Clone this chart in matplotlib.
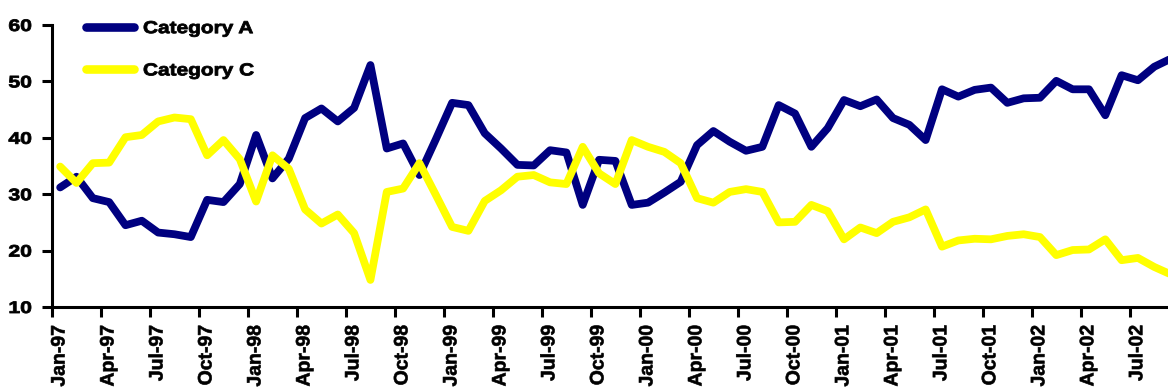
import matplotlib
matplotlib.use("Agg")
import matplotlib.pyplot as plt
import numpy as np
from matplotlib.patheffects import AbstractPathEffect
from matplotlib.transforms import Affine2D, ScaledTranslation

plt.rcParams['font.family'] = ['Liberation Sans', 'DejaVu Sans']
plt.rcParams['font.weight'] = 'bold'

# Monthly observations, Jan-97 .. Sep-02
category_a = [
    31.2, 33.1, 29.3, 28.6, 24.5, 25.3, 23.2, 22.9, 22.4, 29.0, 28.6, 31.8,
    40.5, 32.8, 36.3, 43.5, 45.2, 42.9, 45.3, 52.9, 38.1, 39.0, 33.4, 39.7,
    46.2, 45.8, 40.8, 38.1, 35.2, 35.1, 37.8, 37.4, 28.1, 36.1, 35.9, 28.1,
    28.5, 30.3, 32.2, 38.7, 41.2, 39.3, 37.7, 38.4, 45.8, 44.3, 38.4, 41.7,
    46.7, 45.6, 46.8, 43.5, 42.3, 39.6, 48.6, 47.3, 48.5, 48.9, 46.2, 47.0,
    47.1, 50.1, 48.6, 48.6, 44.0, 51.1, 50.2, 52.6, 54.0,
]
category_c = [
    34.9, 32.0, 35.5, 35.6, 40.1, 40.5, 42.9, 43.6, 43.3, 36.9, 39.6, 36.2,
    28.7, 36.9, 34.5, 27.3, 24.8, 26.4, 23.1, 14.8, 30.4, 31.0, 35.5, 29.9,
    24.2, 23.5, 28.8, 30.7, 33.1, 33.4, 32.1, 31.8, 38.4, 33.7, 31.8, 39.6,
    38.4, 37.5, 35.5, 29.3, 28.5, 30.4, 30.9, 30.4, 25.0, 25.1, 28.1, 27.0,
    22.0, 24.1, 23.1, 25.1, 25.9, 27.3, 20.7, 21.8, 22.1, 22.0, 22.6, 22.9,
    22.4, 19.2, 20.1, 20.2, 22.0, 18.3, 18.7, 17.1, 15.8,
]
tick_labels = [
    "Jan-97", "Apr-97", "Jul-97", "Oct-97",
    "Jan-98", "Apr-98", "Jul-98", "Oct-98",
    "Jan-99", "Apr-99", "Jul-99", "Oct-99",
    "Jan-00", "Apr-00", "Jul-00", "Oct-00",
    "Jan-01", "Apr-01", "Jul-01", "Oct-01",
    "Jan-02", "Apr-02", "Jul-02",
]
series_names = ["Category A", "Category C"]


class HeavyText(AbstractPathEffect):
    """Widen text glyphs horizontally about one edge and thicken the strokes."""

    def __init__(self, sx=1.0, anchor='left', stroke=0.5):
        super().__init__()
        self.sx = sx
        self.anchor = anchor
        self.stroke = stroke

    def draw_path(self, renderer, gc, tpath, affine, rgbFace=None):
        ext = tpath.get_extents(affine)
        x0 = {'left': ext.x0, 'right': ext.x1,
              'center': 0.5 * (ext.x0 + ext.x1)}[self.anchor]
        stretched = affine + Affine2D().translate(-x0, 0).scale(self.sx, 1).translate(x0, 0)
        gc0 = renderer.new_gc()
        gc0.copy_properties(gc)
        gc0.set_linewidth(self.stroke)
        gc0.set_foreground(rgbFace if rgbFace is not None else 'black')
        gc0.set_joinstyle('round')
        renderer.draw_path(gc0, tpath, stretched, rgbFace)
        gc0.restore()


W, H = 1168, 390
fig = plt.figure(figsize=(W / 100, H / 100), dpi=100)
ax = fig.add_axes([52 / W, 1 - 307 / H, 1 - 52 / W, (307 - 25) / H])

# each month sits in the middle of its category slot
x = np.arange(len(category_a)) + 0.5

line_kw = dict(linewidth=5.6, solid_joinstyle='round', solid_capstyle='round')
ax.plot(x, category_a, color='#000080', label=series_names[0], **line_kw)
ax.plot(x, category_c, color='#FFFF00', label=series_names[1], **line_kw)

ax.set_ylim(10, 60)
ax.set_yticks([10, 20, 30, 40, 50, 60])
ax.set_xlim(0, (W - 52) / 16.33)
ax.set_xticks(np.arange(len(tick_labels)) * 3)
ax.set_xticklabels(tick_labels, rotation=90, va='top', ha='center')

for side in ('top', 'right'):
    ax.spines[side].set_visible(False)
for side in ('left', 'bottom'):
    ax.spines[side].set_linewidth(2.2)
    ax.spines[side].set_color('black')

ax.tick_params(axis='both', direction='out', length=7, width=2.2, colors='black')
ax.tick_params(axis='y', pad=7.7, labelsize=12)
ax.tick_params(axis='x', pad=5.8, labelsize=14)

nudge = ScaledTranslation(8 / 100, 0, fig.dpi_scale_trans)
for lbl in ax.get_xticklabels():
    lbl.set_fontweight('bold')
    lbl.set_transform(lbl.get_transform() + nudge)
    lbl.set_path_effects([HeavyText(1.0, 'center', 0.45)])
for lbl in ax.get_yticklabels():
    lbl.set_fontweight('bold')
    lbl.set_path_effects([HeavyText(1.27, 'right', 0.6)])

leg = ax.legend(loc='upper left', bbox_to_anchor=(86 / W, 1 - 21 / H),
                bbox_transform=fig.transFigure, frameon=False,
                handlelength=2.77, handletextpad=0.52, labelspacing=1.56,
                borderpad=0, borderaxespad=0,
                prop={'family': ['Liberation Sans', 'DejaVu Sans'],
                      'weight': 'bold', 'size': 12.5})
for h in leg.get_lines():
    h.set_linewidth(6.2)
for t in leg.get_texts():
    t.set_path_effects([HeavyText(1.2, 'left', 0.6)])

fig.savefig("out.png", dpi=100)
